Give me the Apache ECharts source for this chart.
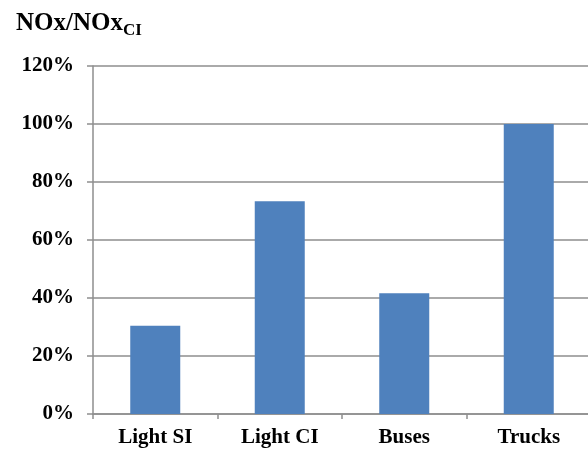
<!DOCTYPE html>
<html>
<head>
<meta charset="utf-8">
<script src="https://cdn.jsdelivr.net/npm/echarts@6/dist/echarts.min.js"></script>
<style>
  html, body { margin: 0; padding: 0; background: #fff; }
  #chart { width: 588px; height: 452px; }
</style>
</head>
<body>
<div id="chart"></div>
<script>
// Vehicle classes and their NOx emissions relative to CI reference
const categories = ['Light SI', 'Light CI', 'Buses', 'Trucks'];
const noxRatio = [0.304, 0.734, 0.416, 1.0];
const yTicks = [0, 0.2, 0.4, 0.6, 0.8, 1.0, 1.2];

const serif = '"Liberation Serif", "Times New Roman", serif';
const gridColor = '#8e8e8e';

const chart = echarts.init(document.getElementById('chart'), null, { renderer: 'canvas' });

chart.setOption({
  animation: false,
  backgroundColor: '#ffffff',
  title: {
    left: 11,
    top: 6,
    text: '{a|NOx/NOx}{b|CI}',
    textStyle: {
      rich: {
        a: { fontFamily: serif, fontWeight: 'bold', fontSize: 25, color: '#000', verticalAlign: 'top', lineHeight: 32 },
        b: { fontFamily: serif, fontWeight: 'bold', fontSize: 17, color: '#000', verticalAlign: 'top', lineHeight: 32, padding: [11, 0, 0, 0] }
      }
    }
  },
  grid: { left: 93, top: 66, width: 498, height: 348, containLabel: false, outerBoundsMode: 'none' },
  xAxis: {
    type: 'category',
    data: categories,
    boundaryGap: true,
    axisLine: { show: true, lineStyle: { color: gridColor, width: 1.5 } },
    axisTick: { show: true, length: 5, lineStyle: { color: gridColor, width: 1.5 } },
    axisLabel: { fontFamily: serif, fontWeight: 'bold', fontSize: 21, color: '#000', margin: 13 },
    splitLine: { show: false }
  },
  yAxis: {
    type: 'value',
    min: yTicks[0],
    max: yTicks[yTicks.length - 1],
    interval: yTicks[1] - yTicks[0],
    axisLine: { show: true, lineStyle: { color: gridColor, width: 1.5 } },
    axisTick: { show: true, length: 6, lineStyle: { color: gridColor, width: 1.5 } },
    axisLabel: {
      fontFamily: serif, fontWeight: 'bold', fontSize: 21, color: '#000', margin: 19,
      formatter: v => Math.round(v * 100) + '%'
    },
    splitLine: { show: true, lineStyle: { color: gridColor, width: 1.5 } }
  },
  series: [{
    type: 'bar',
    data: noxRatio,
    barWidth: 50,
    itemStyle: { color: '#4f81bd' }
  }]
});
</script>
</body>
</html>
